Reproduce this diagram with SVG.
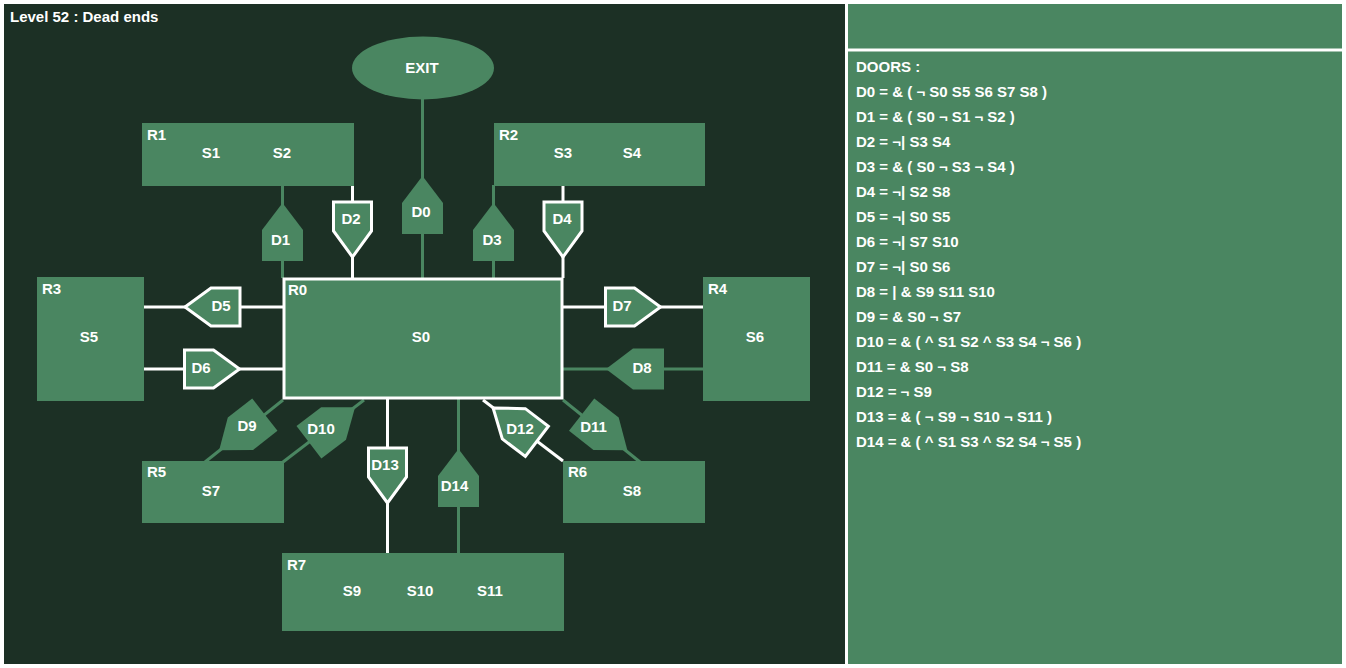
<svg xmlns="http://www.w3.org/2000/svg" width="1346" height="668" viewBox="0 0 1346 668">
<style>
text{font-family:"Liberation Sans",Arial,sans-serif;font-weight:bold;font-size:15px;fill:#ffffff}
.c{text-anchor:middle}
.room{fill:#4a8661}
.g{stroke:#4a8661;stroke-width:3;fill:none}
.w{stroke:#ffffff;stroke-width:3;fill:none}
.dg{fill:#4a8661;stroke:none}
.dw{fill:#4a8661;stroke:#ffffff;stroke-width:3;stroke-linejoin:miter}
</style>
<defs>
<path id="door" d="M0,-29 L20.5,-2 L20.5,29 L-20.5,29 L-20.5,-2 Z"/>
<path id="doorS" d="M0,-27.5 L19,-1.5 L19,27.5 L-19,27.5 L-19,-1.5 Z"/>
</defs>
<rect x="0" y="0" width="1346" height="668" fill="#ffffff"/>
<rect x="4" y="4" width="841" height="660" fill="#1c3025"/>
<rect x="848" y="4" width="494" height="44.5" fill="#4a8661"/>
<rect x="848" y="51.5" width="494" height="612.5" fill="#4a8661"/>
<text x="10" y="21.5">Level 52 : Dead ends</text>

<g id="connectors">
<line class="g" x1="422.5" y1="99" x2="422.5" y2="278"/>
<line class="g" x1="282.5" y1="185" x2="282.5" y2="278"/>
<line class="g" x1="493.5" y1="185" x2="493.5" y2="278"/>
<line class="g" x1="563" y1="369" x2="703" y2="369"/>
<line class="g" x1="283" y1="400" x2="205" y2="462"/>
<line class="g" x1="364" y1="400" x2="283" y2="462"/>
<line class="g" x1="563" y1="400" x2="640" y2="462"/>
<line class="g" x1="458.5" y1="399" x2="458.5" y2="553"/>
<line class="w" x1="352.5" y1="185" x2="352.5" y2="278"/>
<line class="w" x1="563" y1="185" x2="563" y2="278"/>
<line class="w" x1="144" y1="307" x2="284" y2="307"/>
<line class="w" x1="144" y1="369" x2="284" y2="369"/>
<line class="w" x1="562" y1="307" x2="703" y2="307"/>
<line class="w" x1="483" y1="400" x2="563" y2="461"/>
<line class="w" x1="387.5" y1="399" x2="387.5" y2="553"/>
</g>

<g id="EXIT">
<ellipse cx="423" cy="68" rx="71" ry="31.5" fill="#4a8661"/>
<text class="c" x="422" y="72.5">EXIT</text>
</g>
<g id="R0">
<rect x="284" y="279" width="278" height="119" fill="#4a8661" stroke="#ffffff" stroke-width="3"/>
<text x="288" y="295">R0</text>
<text class="c" x="421" y="341.5">S0</text>
</g>
<g id="R1">
<rect class="room" x="142" y="123" width="212" height="63"/>
<text x="147" y="140">R1</text>
<text class="c" x="211" y="158">S1</text>
<text class="c" x="282" y="158">S2</text>
</g>
<g id="R2">
<rect class="room" x="494" y="123" width="211" height="63"/>
<text x="499" y="140">R2</text>
<text class="c" x="563" y="158">S3</text>
<text class="c" x="632" y="158">S4</text>
</g>
<g id="R3">
<rect class="room" x="37" y="277" width="107" height="124"/>
<text x="42" y="294">R3</text>
<text class="c" x="89" y="342">S5</text>
</g>
<g id="R4">
<rect class="room" x="703" y="277" width="107" height="124"/>
<text x="708" y="294">R4</text>
<text class="c" x="755" y="342">S6</text>
</g>
<g id="R5">
<rect class="room" x="142" y="461" width="142" height="62"/>
<text x="147" y="477">R5</text>
<text class="c" x="211" y="496">S7</text>
</g>
<g id="R6">
<rect class="room" x="563" y="461" width="142" height="62"/>
<text x="568" y="477">R6</text>
<text class="c" x="632" y="496">S8</text>
</g>
<g id="R7">
<rect class="room" x="282" y="553" width="282" height="78"/>
<text x="287" y="570">R7</text>
<text class="c" x="352" y="596">S9</text>
<text class="c" x="420" y="596">S10</text>
<text class="c" x="490" y="596">S11</text>
</g>

<g id="D0"><use href="#door" class="dg" transform="translate(422.5,205)"/><text class="c" x="421" y="217">D0</text></g>
<g id="D1"><use href="#door" class="dg" transform="translate(282.5,232)"/><text class="c" x="280.5" y="244.5">D1</text></g>
<g id="D2"><use href="#doorS" class="dw" transform="translate(352.5,229.5) rotate(180)"/><text class="c" x="351" y="223.5">D2</text></g>
<g id="D3"><use href="#door" class="dg" transform="translate(493.5,232)"/><text class="c" x="492" y="244.5">D3</text></g>
<g id="D4"><use href="#doorS" class="dw" transform="translate(563,229.5) rotate(180)"/><text class="c" x="562" y="223.5">D4</text></g>
<g id="D5"><use href="#doorS" class="dw" transform="translate(212.5,307) rotate(-90)"/><text class="c" x="221" y="310.5">D5</text></g>
<g id="D6"><use href="#doorS" class="dw" transform="translate(212,369) rotate(90)"/><text class="c" x="201" y="372.5">D6</text></g>
<g id="D7"><use href="#doorS" class="dw" transform="translate(633,307) rotate(90)"/><text class="c" x="622" y="311">D7</text></g>
<g id="D8"><use href="#door" class="dg" transform="translate(635,369) rotate(-90)"/><text class="c" x="642" y="372.5">D8</text></g>
<g id="D9"><use href="#door" class="dg" transform="translate(242,432.5) rotate(-128)"/><text class="c" x="247" y="431">D9</text></g>
<g id="D10"><use href="#door" class="dg" transform="translate(332,424.7) rotate(52.7)"/><text class="c" x="321" y="433.5">D10</text></g>
<g id="D11"><use href="#door" class="dg" transform="translate(604.5,432.5) rotate(128)"/><text class="c" x="593.5" y="431.5">D11</text></g>
<g id="D12"><use href="#doorS" class="dw" transform="translate(515,424.7) rotate(-52.7)"/><text class="c" x="520" y="433.5">D12</text></g>
<g id="D13"><use href="#doorS" class="dw" transform="translate(387.5,475.5) rotate(180)"/><text class="c" x="385" y="469.5">D13</text></g>
<g id="D14"><use href="#door" class="dg" transform="translate(458.5,478)"/><text class="c" x="454.5" y="490.5">D14</text></g>

<g id="doors-list">
<text x="856" y="72">DOORS :</text>
<text x="856" y="97">D0 = &amp; ( ¬ S0 S5 S6 S7 S8 )</text>
<text x="856" y="122">D1 = &amp; ( S0 ¬ S1 ¬ S2 )</text>
<text x="856" y="147">D2 = ¬| S3 S4</text>
<text x="856" y="172">D3 = &amp; ( S0 ¬ S3 ¬ S4 )</text>
<text x="856" y="197">D4 = ¬| S2 S8</text>
<text x="856" y="222">D5 = ¬| S0 S5</text>
<text x="856" y="247">D6 = ¬| S7 S10</text>
<text x="856" y="272">D7 = ¬| S0 S6</text>
<text x="856" y="297">D8 = | &amp; S9 S11 S10</text>
<text x="856" y="322">D9 = &amp; S0 ¬ S7</text>
<text x="856" y="347">D10 = &amp; ( ^ S1 S2 ^ S3 S4 ¬ S6 )</text>
<text x="856" y="372">D11 = &amp; S0 ¬ S8</text>
<text x="856" y="397">D12 = ¬ S9</text>
<text x="856" y="422">D13 = &amp; ( ¬ S9 ¬ S10 ¬ S11 )</text>
<text x="856" y="447">D14 = &amp; ( ^ S1 S3 ^ S2 S4 ¬ S5 )</text>
</g>
</svg>
